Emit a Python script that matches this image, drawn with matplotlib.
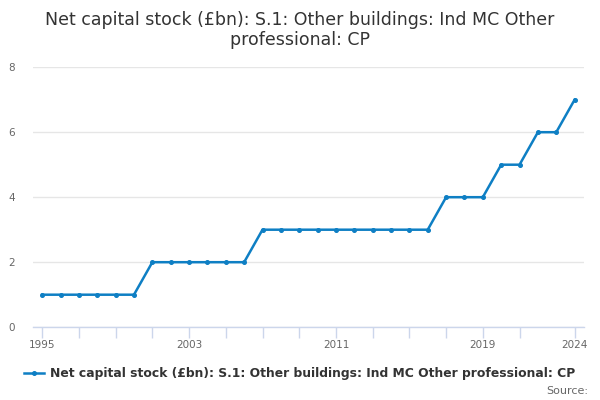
#!/usr/bin/env python3

import matplotlib
matplotlib.use('Agg')
import matplotlib.pyplot as plt
from matplotlib.lines import Line2D

# data
years = list(range(1995, 2025))
values = [1, 1, 1, 1, 1, 1,
          2, 2, 2, 2, 2, 2,
          3, 3, 3, 3, 3, 3, 3, 3, 3, 3,
          4, 4, 4,
          5, 5,
          6, 6,
          7]
tick_years = list(range(1995, 2023, 2)) + [2024]
label_years = [1995, 2003, 2011, 2019, 2024]
yticks = [0, 2, 4, 6, 8]

series_name = 'Net capital stock (£bn): S.1: Other buildings: Ind MC Other professional: CP'

line_col = '#0e7fc4'
text_col = '#333333'
tick_col = '#666666'

plt.rcParams['font.family'] = ['DejaVu Sans']

fig = plt.figure(figsize=(6, 4), dpi=100)
ax = fig.add_axes([0.055, 0.182, 0.918, 0.65])

ax.plot(years, values, color=line_col, linewidth=1.8, marker='o', markersize=2.6)

ax.set_xlim(1995 - 0.5, 2024 + 0.5)
ax.set_ylim(0, 8)
ax.set_yticks(yticks)
ax.set_yticklabels([str(v) for v in yticks], color=tick_col, fontsize=7.5)
ax.set_xticks(tick_years)
ax.set_xticklabels([str(y) if y in label_years else '' for y in tick_years],
                   color=tick_col, fontsize=7.5)
ax.tick_params(axis='y', length=0, pad=13)
ax.tick_params(axis='x', length=8, color='#ccd6eb', width=1, pad=1)

ax.grid(axis='y', color='#e6e6e6', linewidth=1)
ax.set_axisbelow(True)
for s in ['top', 'right', 'left']:
    ax.spines[s].set_visible(False)
ax.spines['bottom'].set_color('#ccd6eb')
ax.spines['bottom'].set_linewidth(1)

fig.suptitle('Net capital stock (£bn): S.1: Other buildings: Ind MC Other\nprofessional: CP',
             x=0.5, y=0.972, fontsize=12.5, color=text_col, linespacing=1.15)

handle = Line2D([], [], color=line_col, linewidth=1.8, marker='o', markersize=2.6)
leg = fig.legend([handle], [series_name], loc='center', bbox_to_anchor=(0.5, 0.066),
                 frameon=False, handlelength=1.6, handletextpad=0.5,
                 prop={'weight': 'bold', 'size': 8.95})
for t in leg.get_texts():
    t.set_color(text_col)

fig.text(0.98, 0.01, 'Source:', ha='right', va='bottom', fontsize=8, color=tick_col)

plt.savefig('out.png')
